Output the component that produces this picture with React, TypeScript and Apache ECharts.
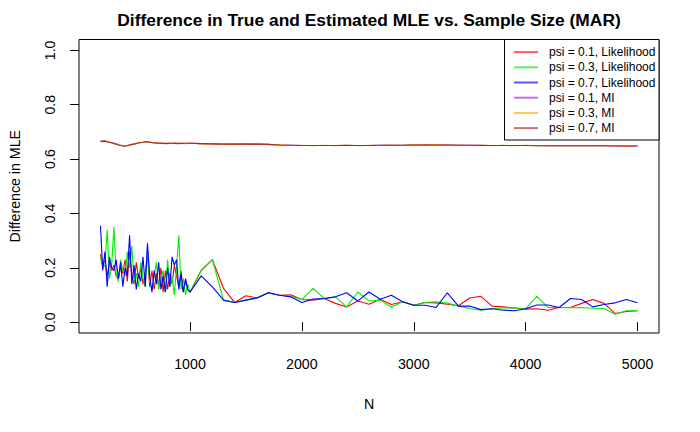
import React, { useEffect, useRef } from "react";
import * as echarts from "echarts";

const N = [
  200, 220, 240, 260, 280, 300, 320, 340, 360, 380, 400, 420, 440, 460, 480, 500, 520, 540, 560, 580,
  600, 620, 640, 660, 680, 700, 720, 740, 760, 780, 800, 820, 840, 860, 880, 900, 920, 940, 960, 980,
  1000, 1100, 1200, 1300, 1400, 1500, 1600, 1700, 1800, 1900, 2000, 2100, 2200, 2300, 2400, 2500, 2600,
  2700, 2800, 2900, 3000, 3100, 3200, 3300, 3400, 3500, 3600, 3700, 3800, 3900, 4000, 4100, 4200, 4300,
  4400, 4500, 4600, 4700, 4800, 4900, 5000,
];

const likRed01 = [
  0.25, 0.21, 0.23, 0.17, 0.22, 0.19, 0.21, 0.17, 0.16, 0.2, 0.18, 0.23, 0.15, 0.26, 0.17, 0.14, 0.22, 0.16, 0.2, 0.14,
  0.18, 0.25, 0.13, 0.19, 0.12, 0.18, 0.13, 0.2, 0.11, 0.19, 0.12, 0.18, 0.14, 0.21, 0.17, 0.13, 0.19, 0.11, 0.15, 0.12,
  0.11, 0.19, 0.23, 0.124, 0.072, 0.097, 0.089, 0.108, 0.099, 0.101, 0.083, 0.081, 0.087, 0.069, 0.056, 0.078, 0.066,
  0.084, 0.065, 0.075, 0.062, 0.072, 0.071, 0.066, 0.06, 0.089, 0.095, 0.059, 0.056, 0.052, 0.048, 0.049, 0.044, 0.054,
  0.054, 0.069, 0.083, 0.069, 0.032, 0.039, 0.042,
];

const likGreen03 = [
  0.24, 0.2, 0.21, 0.34, 0.16, 0.21, 0.35, 0.18, 0.15, 0.23, 0.19, 0.17, 0.26, 0.2, 0.28, 0.15, 0.18, 0.13, 0.22, 0.16,
  0.13, 0.27, 0.15, 0.12, 0.17, 0.22, 0.12, 0.16, 0.19, 0.11, 0.23, 0.13, 0.17, 0.1, 0.2, 0.32, 0.12, 0.16, 0.1, 0.14,
  0.11, 0.19, 0.23, 0.08, 0.072, 0.081, 0.09, 0.108, 0.099, 0.095, 0.083, 0.124, 0.087, 0.093, 0.056, 0.111, 0.078,
  0.081, 0.056, 0.075, 0.062, 0.072, 0.075, 0.07, 0.059, 0.05, 0.044, 0.049, 0.052, 0.052, 0.049, 0.095, 0.054, 0.054,
  0.053, 0.054, 0.051, 0.05, 0.029, 0.042, 0.042,
];

const likBlue07 = [
  0.355, 0.19, 0.26, 0.13, 0.24, 0.2, 0.19, 0.23, 0.16, 0.22, 0.13, 0.2, 0.17, 0.32, 0.14, 0.21, 0.12, 0.18, 0.15, 0.24,
  0.13, 0.29, 0.17, 0.11, 0.19, 0.14, 0.22, 0.12, 0.17, 0.11, 0.2, 0.13, 0.24, 0.21, 0.23, 0.12, 0.18, 0.11, 0.16, 0.12,
  0.11, 0.17, 0.13, 0.081, 0.072, 0.081, 0.089, 0.108, 0.099, 0.093, 0.072, 0.085, 0.087, 0.093, 0.108, 0.078, 0.111,
  0.084, 0.099, 0.075, 0.062, 0.062, 0.054, 0.108, 0.059, 0.059, 0.046, 0.049, 0.044, 0.042, 0.049, 0.063, 0.063, 0.054,
  0.087, 0.083, 0.056, 0.065, 0.071, 0.083, 0.071,
];

const miPurple01 = [
  0.664, 0.666, 0.667, 0.665, 0.662, 0.66, 0.658, 0.656, 0.653, 0.651, 0.649, 0.648, 0.65, 0.652, 0.654, 0.655, 0.657, 0.659, 0.66, 0.662,
  0.663, 0.664, 0.663, 0.661, 0.66, 0.659, 0.658, 0.659, 0.658, 0.657, 0.658, 0.658, 0.657, 0.659, 0.658, 0.657, 0.658, 0.658, 0.657, 0.658,
  0.658, 0.657, 0.656, 0.655, 0.655, 0.656, 0.655, 0.654, 0.652, 0.651, 0.65, 0.65, 0.65, 0.65, 0.651, 0.65, 0.65,
  0.651, 0.651, 0.651, 0.652, 0.653, 0.652, 0.652, 0.651, 0.651, 0.651, 0.65, 0.65, 0.65, 0.65, 0.65, 0.649, 0.649,
  0.649, 0.649, 0.649, 0.649, 0.649, 0.648, 0.649,
];

const miOrange03 = [
  0.666, 0.664, 0.668, 0.663, 0.663, 0.659, 0.659, 0.654, 0.654, 0.65, 0.65, 0.647, 0.651, 0.651, 0.655, 0.654, 0.658, 0.658, 0.661, 0.661,
  0.664, 0.663, 0.664, 0.66, 0.661, 0.658, 0.659, 0.658, 0.659, 0.656, 0.659, 0.657, 0.658, 0.658, 0.659, 0.656, 0.659, 0.657, 0.658, 0.657,
  0.659, 0.656, 0.657, 0.654, 0.656, 0.655, 0.656, 0.653, 0.653, 0.65, 0.651, 0.649, 0.651, 0.649, 0.652, 0.649, 0.651,
  0.65, 0.652, 0.65, 0.653, 0.652, 0.653, 0.651, 0.652, 0.65, 0.652, 0.649, 0.651, 0.649, 0.651, 0.649, 0.65, 0.648,
  0.65, 0.648, 0.65, 0.648, 0.65, 0.647, 0.65,
];

const miBrown07 = [
  0.665, 0.665, 0.666, 0.664, 0.662, 0.66, 0.657, 0.655, 0.652, 0.65, 0.648, 0.648, 0.649, 0.652, 0.653, 0.656, 0.657, 0.66, 0.661, 0.662,
  0.664, 0.664, 0.662, 0.661, 0.659, 0.659, 0.658, 0.658, 0.657, 0.658, 0.657, 0.658, 0.658, 0.658, 0.657, 0.658, 0.657, 0.658, 0.658, 0.658,
  0.658, 0.657, 0.656, 0.655, 0.655, 0.655, 0.655, 0.654, 0.652, 0.651, 0.65, 0.65, 0.65, 0.65, 0.65, 0.65, 0.65,
  0.651, 0.651, 0.651, 0.652, 0.652, 0.652, 0.652, 0.651, 0.651, 0.65, 0.65, 0.65, 0.65, 0.65, 0.649, 0.649, 0.649,
  0.649, 0.649, 0.649, 0.649, 0.648, 0.648, 0.648,
];

const seriesNames = [
  "psi = 0.1, Likelihood",
  "psi = 0.3, Likelihood",
  "psi = 0.7, Likelihood",
  "psi = 0.1, MI",
  "psi = 0.3, MI",
  "psi = 0.7, MI",
];
const seriesValues = [likRed01, likGreen03, likBlue07, miPurple01, miOrange03, miBrown07];
const seriesColors = ["#FF0000", "#00EE00", "#0000FF", "#A020F0", "#FFA500", "#A52A2A"];

const xTicks = [1000, 2000, 3000, 4000, 5000];
const yTicks = [0, 0.2, 0.4, 0.6, 0.8, 1.0];

const FONT = "Liberation Sans, Arial, Helvetica, sans-serif";

export default function App() {
  const ref = useRef<HTMLDivElement>(null);
  useEffect(() => {
    if (!ref.current) return;
    const chart = echarts.init(ref.current, null, { renderer: "svg" });
    chart.setOption({
      animation: false,
      backgroundColor: "#fff",
      grid: {
        left: 79,
        right: 41,
        top: 39.5,
        bottom: 99,
        show: true,
        borderColor: "#000",
        borderWidth: 1,
        backgroundColor: "transparent",
      },
      graphic: [
        {
          type: "text",
          x: 369,
          y: 20,
          style: {
            text: "Difference in True and Estimated MLE vs. Sample Size (MAR)",
            font: "bold 17.4px " + FONT,
            fill: "#000",
            align: "center",
            verticalAlign: "middle",
          },
        },
        {
          type: "rect",
          shape: { x: 504.5, y: 39.5, width: 154.5, height: 100.5 },
          style: { fill: "#fff", stroke: "#000", lineWidth: 1 },
          z: 50,
        },
      ],
      legend: {
        orient: "vertical",
        left: 514,
        top: 44.5,
        padding: 0,
        icon: "rect",
        itemWidth: 24,
        itemHeight: 2,
        itemGap: 0,
        z: 60,
        itemStyle: { opacity: 0.65 },
        textStyle: {
          color: "#000",
          fontSize: 12,
          fontFamily: FONT,
          lineHeight: 15.2,
          height: 15.2,
          padding: [0, 0, 0, 6],
        },
        data: seriesNames,
      },
      xAxis: {
        type: "value",
        min: 8,
        max: 5192,
        splitLine: { show: false },
        axisLine: { show: false },
        axisTick: {
          show: true,
          customValues: xTicks,
          length: 9,
          lineStyle: { color: "#000", width: 1 },
        },
        axisLabel: {
          customValues: xTicks,
          color: "#000",
          fontSize: 14.2,
          fontFamily: FONT,
          margin: 24,
          formatter: (v: number) => String(Math.round(v)),
        },
        name: "N",
        nameLocation: "middle",
        nameGap: 64,
        nameTextStyle: { color: "#000", fontSize: 14.2, fontFamily: FONT },
      },
      yAxis: {
        type: "value",
        min: -0.04,
        max: 1.04,
        splitLine: { show: false },
        axisLine: { show: false },
        axisTick: {
          show: true,
          customValues: yTicks,
          length: 9,
          lineStyle: { color: "#000", width: 1 },
        },
        axisLabel: {
          customValues: yTicks,
          rotate: 90,
          color: "#000",
          fontSize: 14.2,
          fontFamily: FONT,
          margin: 22,
          formatter: (v: number) => v.toFixed(1),
        },
        name: "Difference in MLE",
        nameLocation: "middle",
        nameRotate: 90,
        nameGap: 57,
        nameTextStyle: { color: "#000", fontSize: 14.2, fontFamily: FONT },
      },
      series: seriesNames.map((name, i) => ({
        name,
        type: "line",
        symbol: "none",
        showSymbol: false,
        color: seriesColors[i],
        lineStyle: { color: seriesColors[i], width: 1.1 },
        data: N.map((n, j) => [n, seriesValues[i][j]]),
        z: 2 + i,
      })),
    });
    return () => chart.dispose();
  }, []);
  return (
    <div
      ref={ref}
      style={{ position: "fixed", left: 0, top: 0, width: 700, height: 432 }}
    />
  );
}
